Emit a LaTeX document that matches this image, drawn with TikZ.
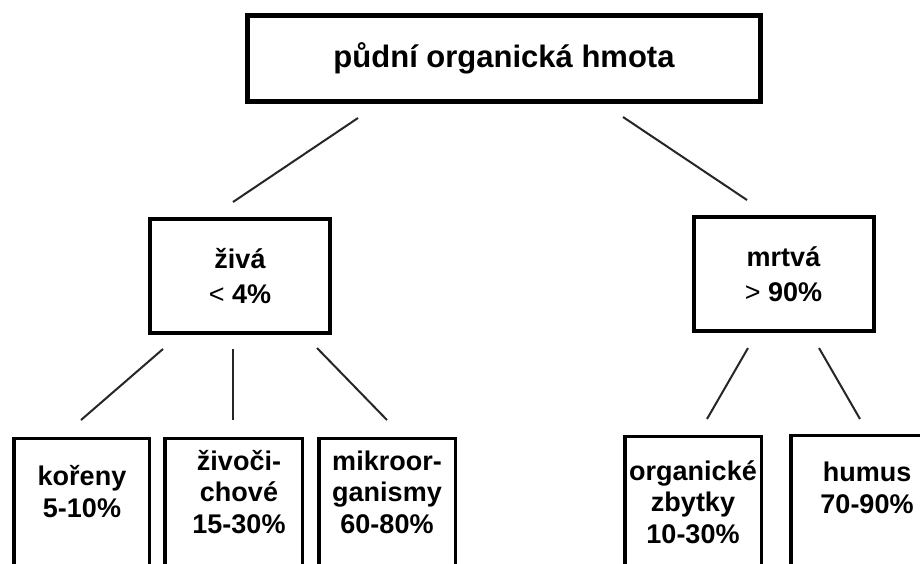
\documentclass[tikz,border=0pt]{standalone}
\usepackage{fontspec}
\setmainfont{Liberation Sans}
\begin{document}
\begin{tikzpicture}[x=1pt,y=-1pt,
  box/.style={draw=black, fill=none, inner sep=0pt, rectangle},
  topbox/.style={box, line width=5pt, minimum width=513pt, minimum height=86pt,
     font=\bfseries\fontsize{31}{36}\selectfont},
  midbox/.style={box, line width=4pt, minimum width=180pt, minimum height=114pt,
     align=center, font=\bfseries\fontsize{27}{35}\selectfont},
  lowbox/.style={box, line width=3.5pt, minimum width=136.5pt, minimum height=200pt, anchor=north},
  lowtxt/.style={inner sep=0pt, align=center, anchor=base, font=\bfseries\fontsize{27}{31.5}\selectfont},
  link/.style={line width=2pt, draw=black!85}]
\useasboundingbox (0,0) rectangle (920,563);
\clip (0,0) rectangle (920,563);
\fill[white] (0,0) rectangle (920,563);

% boxes
\node[topbox] (root) at (504,58.5) {půdní organická hmota};
\node[midbox] (ziva) at (240,276) {živá\\{\mdseries<} 4\%};
\node[midbox] (mrtva) at (783.5,274) {mrtvá\\{\mdseries>} 90\%};

\node[lowbox, minimum width=135.5pt] (kor) at (81.5,436.75) {};
\node[lowbox, minimum width=137.5pt] (ziv) at (233.5,436.75) {};
\node[lowbox] (mik) at (387,436.75) {};
\node[lowbox] (org) at (693,434.75) {};
\node[lowbox, minimum width=153pt] (hum) at (867.5,433.75) {};

% texts in the lower boxes (anchor = baseline of the last line)
\node[lowtxt] (korT) at (82,517) {kořeny\\5-10\%};
\node[lowtxt] (zivT) at (239,533) {živoči-\\chové\\15-30\%};
\node[lowtxt] (mikT) at (387,533) {mikroor-\\ganismy\\60-80\%};
\node[lowtxt] (orgT) at (693,543) {organické\\zbytky\\10-30\%};
\node[lowtxt] (humT) at (867,513) {humus\\70-90\%};

% connector end points
\coordinate (r1) at (358,118);  \coordinate (z1) at (233,202);
\coordinate (r2) at (623,117);  \coordinate (m1) at (747,200);
\coordinate (za) at (163,349);  \coordinate (ka) at (81,420);
\coordinate (zb) at (233,349);  \coordinate (kb) at (233,420);
\coordinate (zc) at (317,348);  \coordinate (kc) at (387,420);
\coordinate (ma) at (748,348);  \coordinate (oa) at (707,419);
\coordinate (mb) at (819,348);  \coordinate (hb) at (860,419);

\draw[link] (r1) -- (z1);
\draw[link] (r2) -- (m1);
\draw[link] (za) -- (ka);
\draw[link] (zb) -- (kb);
\draw[link] (zc) -- (kc);
\draw[link] (ma) -- (oa);
\draw[link] (mb) -- (hb);
\end{tikzpicture}
\end{document}
